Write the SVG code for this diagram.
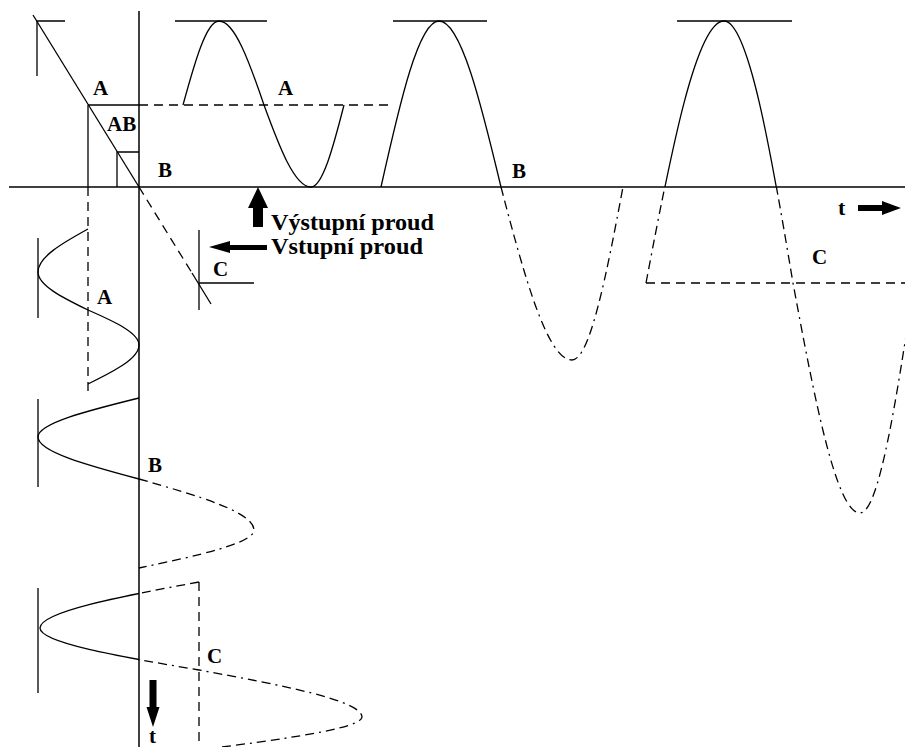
<svg xmlns="http://www.w3.org/2000/svg" width="905" height="747" viewBox="0 0 905 747">
  <style>
    .ln { fill: none; stroke: #000; stroke-width: 1.3; }
    .ax { fill: none; stroke: #000; stroke-width: 1.5; }
    .ds { fill: none; stroke: #000; stroke-width: 1.3; stroke-dasharray: 9 6; }
    .dc { fill: none; stroke: #000; stroke-width: 1.3; stroke-dasharray: 9 5 9 5 2 5; }
    .lbl { font-family: "Liberation Serif", "Times New Roman", serif; font-weight: bold; font-size: 21px; fill: #000; }
    .leg { font-family: "Liberation Serif", "Times New Roman", serif; font-weight: bold; font-size: 23px; fill: #000; }
    .arr { fill: #000; stroke: none; }
  </style>
  <defs>
    <clipPath id="above"><rect x="0" y="0" width="905" height="187"/></clipPath>
    <clipPath id="below"><rect x="0" y="187" width="905" height="560"/></clipPath>
    <clipPath id="leftside"><rect x="0" y="0" width="139" height="747"/></clipPath>
    <clipPath id="rightside"><rect x="139" y="0" width="766" height="747"/></clipPath>
  </defs>
  <rect x="0" y="0" width="905" height="747" fill="#fff"/>

  <g id="axes">
    <line class="ax" x1="9" y1="187" x2="905" y2="187"/>
    <line class="ax" x1="139" y1="11" x2="139" y2="747"/>
  </g>

  <g id="transfer-line">
    <line class="ln" x1="33" y1="15" x2="139" y2="187"/>
    <line class="ds" x1="139" y1="187" x2="192" y2="273"/>
    <line class="ln" x1="192" y1="273" x2="211" y2="304"/>
    <polyline class="ln" points="65,21 37,21 37,76"/>
  </g>

  <g id="bias-lines">
    <line class="ln" x1="88" y1="105" x2="139" y2="105"/>
    <line class="ds" x1="139" y1="105" x2="389" y2="105"/>
    <line class="ln" x1="88" y1="105" x2="88" y2="187"/>
    <line class="ds" x1="88" y1="187" x2="88" y2="397"/>
    <polyline class="ln" points="139,152 117,152 117,187"/>
    <line class="ln" x1="199" y1="230" x2="199" y2="310"/>
    <line class="ln" x1="199" y1="283" x2="254" y2="283"/>
    <line class="ds" x1="646" y1="283" x2="905" y2="283"/>
    <line class="ds" x1="199" y1="582" x2="199" y2="747"/>
  </g>

  <g id="peak-ticks">
    <line class="ln" x1="175" y1="21" x2="267" y2="21"/>
    <line class="ln" x1="393" y1="21" x2="487" y2="21"/>
    <line class="ln" x1="677" y1="21" x2="792" y2="21"/>
    <line class="ln" x1="38" y1="238" x2="38" y2="318"/>
    <line class="ln" x1="38" y1="399" x2="38" y2="487"/>
    <line class="ln" x1="38" y1="588" x2="38" y2="693"/>
  </g>

  <g id="output-A">
    <path class="ln" d="M183,105 C194.7,62.1 206.4,21 219,21 C234.7,21 249.4,62.1 264,105 C279.3,146.9 294.6,187 311,187 C322.5,187 333.3,146.9 344,105"/>
  </g>
  <g id="output-B">
    <path class="ln" d="M381,187 C399.9,102.2 418.7,21 439,21 C460.7,21 480.8,102.2 501,187"/>
    <path class="dc" d="M501,187 C524.1,275.4 547.2,360 572,360 C589.8,360 606.4,275.4 623,187"/>
  </g>
  <g id="output-C">
    <path class="ln" clip-path="url(#above)" d="M646,283 C671.4,149.2 696.7,21 724,21 C748.1,21 770.6,149.2 793,283 C814.8,400.5 836.6,513 860,513 C878.9,513 896.4,400.5 914,283"/>
    <path class="dc" clip-path="url(#below)" d="M646,283 C671.4,149.2 696.7,21 724,21 C748.1,21 770.6,149.2 793,283 C814.8,400.5 836.6,513 860,513 C878.9,513 896.4,400.5 914,283"/>
  </g>

  <g id="input-A">
    <path class="ln" d="M88,229 C62.5,243 38,257 38,272 C38,285.3 62.5,297.6 88,310 C114.1,321.4 139,332.8 139,345 C139,358.6 114.1,371.3 88,384"/>
  </g>
  <g id="input-B">
    <path class="ln" d="M139,398 C87.4,410.7 38,423.4 38,437 C38,451.7 87.4,465.3 139,479"/>
    <path class="dc" d="M139,479 C197.7,495.6 254,512.2 254,530 C254,543.3 197.7,555.6 139,568"/>
  </g>
  <g id="input-C">
    <path class="ln" clip-path="url(#leftside)" d="M199,582 C117.8,597 40,611.9 40,628 C40,642.7 117.8,656.3 199,670 C282.3,685.3 362,700.6 362,717 C362,728.5 282.3,739.3 199,750"/>
    <path class="dc" clip-path="url(#rightside)" d="M199,582 C117.8,597 40,611.9 40,628 C40,642.7 117.8,656.3 199,670 C282.3,685.3 362,700.6 362,717 C362,728.5 282.3,739.3 199,750"/>
  </g>

  <g id="arrows">
    <polygon class="arr" points="258,187 268,208 263,208 263,227 253,227 253,208 248,208"/>
    <polygon class="arr" points="209,247 230,241 230,245 267,245 267,250 230,250 230,253"/>
    <polygon class="arr" points="901,208 882,201 882,205 858,205 858,211 882,211 882,215"/>
    <polygon class="arr" points="153,727 146.5,707 149.5,707 149.5,680 156.5,680 156.5,707 159.5,707"/>
  </g>

  <g id="labels">
    <text class="lbl" x="93" y="95">A</text>
    <text class="lbl" x="107" y="131">AB</text>
    <text class="lbl" x="158" y="177">B</text>
    <text class="lbl" x="278" y="95">A</text>
    <text class="lbl" x="512" y="178">B</text>
    <text class="lbl" x="812" y="264">C</text>
    <text class="lbl" x="213" y="276">C</text>
    <text class="lbl" x="97" y="304">A</text>
    <text class="lbl" x="148" y="472">B</text>
    <text class="lbl" x="207" y="663">C</text>
    <text class="lbl" x="838" y="215" style="font-size:22px">t</text>
    <text class="lbl" x="149" y="743" style="font-size:21px">t</text>
    <text class="leg" x="271" y="230" textLength="163" lengthAdjust="spacingAndGlyphs">Výstupní proud</text>
    <text class="leg" x="271" y="254" textLength="152" lengthAdjust="spacingAndGlyphs">Vstupní proud</text>
  </g>
</svg>
